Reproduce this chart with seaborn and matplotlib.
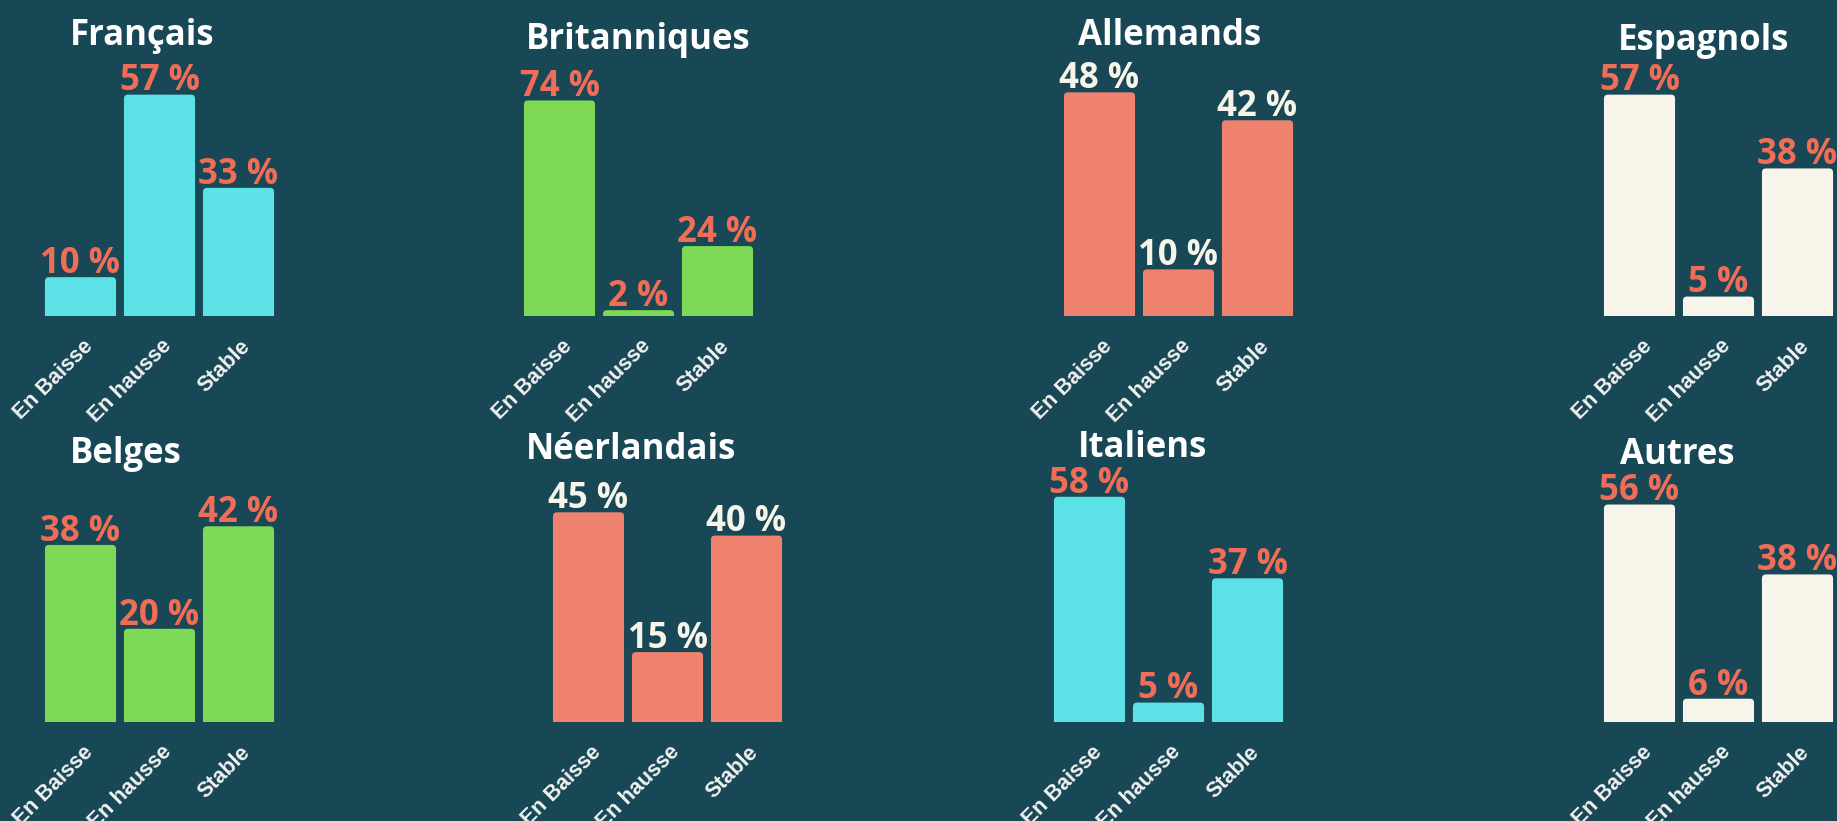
import numpy as np
import pandas as pd
import seaborn as sns
import matplotlib.pyplot as plt
import matplotlib.transforms as mtransforms
from matplotlib.patches import FancyBboxPatch

# Data
groups = ["Français", "Britanniques", "Allemands", "Espagnols",
          "Belges", "Néerlandais", "Italiens", "Autres"]
categories = ["En Baisse", "En hausse", "Stable"]
francais = [10, 57, 33]
britanniques = [74, 2, 24]
allemands = [48, 10, 42]
espagnols = [57, 5, 38]
belges = [38, 20, 42]
neerlandais = [45, 15, 40]
italiens = [58, 5, 37]
autres = [56, 6, 38]
values = [francais, britanniques, allemands, espagnols,
          belges, neerlandais, italiens, autres]

# Colours
BG = "#184855"
CYAN = "#5CE1E6"
GREEN = "#7ED957"
CORAL = "#EF826F"
CREAM = "#F7F4E9"
LABEL_CORAL = "#F26D58"
bar_colors = [CYAN, GREEN, CORAL, CREAM, GREEN, CORAL, CYAN, CREAM]
label_colors = [CREAM if c == CORAL else LABEL_CORAL for c in bar_colors]

# Layout in pixels (figure is 1837 x 821 at dpi 100)
W, H = 1837, 821
ax_left = [41, 520, 1060, 1600, 41, 549, 1050, 1600]
ax_base = [316, 316, 316, 316, 722, 722, 722, 722]
ax_w, ax_h = 237, 233
title_x = [142, 638, 1170, 1704, 126, 631, 1143, 1677]
title_y = [45, 49, 45, 50, 463, 459, 457, 464]

sns.set_style("white")
plt.rcParams["font.family"] = ["Open Sans", "DejaVu Sans"]

fig = plt.figure(figsize=(W / 100, H / 100), dpi=100, facecolor=BG)

for k, name in enumerate(groups):
    vals = values[k]
    ax = fig.add_axes([ax_left[k] / W, (H - ax_base[k]) / H, ax_w / W, ax_h / H])
    ax.set_facecolor(BG)
    df = pd.DataFrame({"cat": categories, "val": vals})
    sns.barplot(data=df, x="cat", y="val", color=bar_colors[k], saturation=1,
                width=0.9, ax=ax)
    ymax = np.ceil(max(vals) / 10) * 10
    ax.set_xlim(-0.5, 2.5)
    ax.set_ylim(0, ymax)

    # rounded tops
    r = 4 / 79
    asp = ymax * 79 / ax_h
    for bar in list(ax.patches):
        x, w, h = bar.get_x(), bar.get_width(), bar.get_height()
        rb = FancyBboxPatch((x, -r * asp), w, h + r * asp,
                            boxstyle=f"round,pad=0,rounding_size={r}",
                            mutation_aspect=asp, fc=bar_colors[k], ec="none")
        bar.remove()
        ax.add_patch(rb)

    # value labels
    for i, v in enumerate(vals):
        ax.annotate(f"{v} %", xy=(i, v), xytext=(0, 3), textcoords="offset points",
                    ha="center", va="baseline", fontsize=25, fontweight="bold",
                    color=label_colors[k], annotation_clip=False)

    for s in ax.spines.values():
        s.set_visible(False)
    ax.set_xlabel("")
    ax.set_ylabel("")
    ax.set_yticks([])
    ax.set_xticks(range(len(categories)))
    ax.set_xticklabels(categories, rotation=45, ha="right", va="center",
                       rotation_mode="anchor", fontsize=15.5, fontweight="bold",
                       color="#F2F2F2", family=["Liberation Sans", "DejaVu Sans"])
    ax.tick_params(axis="x", length=0, pad=19.5)
    offset = mtransforms.ScaledTranslation(9 / 100, 0, fig.dpi_scale_trans)
    for lbl in ax.get_xticklabels():
        lbl.set_transform(lbl.get_transform() + offset)

    fig.text(title_x[k] / W, 1 - title_y[k] / H, name, ha="center", va="baseline",
             fontsize=25, fontweight="bold", color="white")

fig.savefig("out.png", dpi=100, facecolor=BG)
